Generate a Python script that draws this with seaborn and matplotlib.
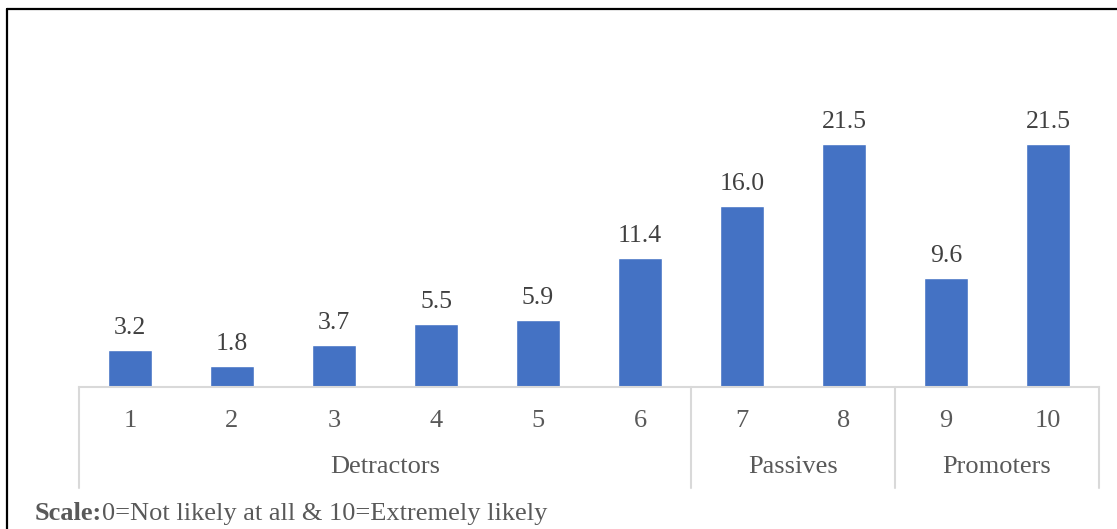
import matplotlib
matplotlib.use("Agg")
import matplotlib.pyplot as plt
import matplotlib.transforms as mtransforms
from matplotlib.lines import Line2D
import seaborn as sns
import pandas as pd

scores = ["1", "2", "3", "4", "5", "6", "7", "8", "9", "10"]
values = [3.2, 1.8, 3.7, 5.5, 5.9, 11.4, 16.0, 21.5, 9.6, 21.5]
groups = ["Detractors", "Passives", "Promoters"]
group_sizes = [6, 2, 2]
caption_bold = "Scale:"
caption_rest = "0=Not likely at all & 10=Extremely likely"

sns.set_theme(style="white")
plt.rcParams["font.family"] = ["Liberation Serif", "DejaVu Serif"]

W, H = 1117, 529
fig = plt.figure(figsize=(W / 100, H / 100), dpi=100)
fig.patch.set_facecolor("white")

x0, x1 = 79, 1099
y_base, y_top = 386.5, 104.5
ax = fig.add_axes([x0 / W, 1 - y_base / H, (x1 - x0) / W, (y_base - y_top) / H])

df = pd.DataFrame({"score": scores, "value": values})
sns.barplot(data=df, x="score", y="value", order=scores, color="#4472C4",
            saturation=1, width=0.43, ax=ax)
ax.set_ylim(0, 25)
ax.set_xlim(-0.5, len(scores) - 0.5)
ax.set_xlabel("")
ax.set_ylabel("")
ax.set_yticks([])
for s in ["left", "right", "top"]:
    ax.spines[s].set_visible(False)
ax.spines["bottom"].set_color("#D9D9D9")
ax.spines["bottom"].set_linewidth(1.5)
ax.tick_params(axis="x", length=0, pad=17, labelsize=19, labelcolor="#595959")
ax.set_facecolor("white")

for i, v in enumerate(values):
    ax.annotate(f"{v:.1f}", (i, v), xytext=(0, 16), textcoords="offset points",
                ha="center", va="center", fontsize=18.5, color="#404040")

trans = mtransforms.blended_transform_factory(ax.transData, fig.transFigure)
y_axis_fig = 1 - y_base / H
y_low_fig = 1 - 488 / H
y_group_fig = 1 - 467 / H
start = 0
bounds = [-0.5]
for g, n in zip(groups, group_sizes):
    center = start + (n - 1) / 2
    fig.text(0, 0, g, transform=trans, fontsize=19, color="#595959",
             ha="center", va="center").set_position((center, y_group_fig))
    start += n
    bounds.append(start - 0.5)
for b in bounds:
    fig.add_artist(Line2D([b, b], [y_axis_fig, y_low_fig], transform=trans,
                          color="#D9D9D9", linewidth=1.5, clip_on=False))

# caption
cap_y = 1 - 514 / H
t1 = fig.text(35 / W, cap_y, caption_bold, fontsize=19, fontweight="bold",
              color="#595959", ha="left", va="center")
fig.canvas.draw()
bb = t1.get_window_extent()
fig.text(bb.x1 / W, cap_y, caption_rest, fontsize=19, color="#595959",
         ha="left", va="center")

# frame border
fig.add_artist(Line2D([7 / W, 1.0], [1 - 9 / H, 1 - 9 / H], transform=fig.transFigure,
                      color="black", linewidth=1.6))
fig.add_artist(Line2D([7 / W, 7 / W], [1 - 9 / H, 0.0], transform=fig.transFigure,
                      color="black", linewidth=1.6))

fig.savefig("out.png", dpi=100, facecolor="white")
